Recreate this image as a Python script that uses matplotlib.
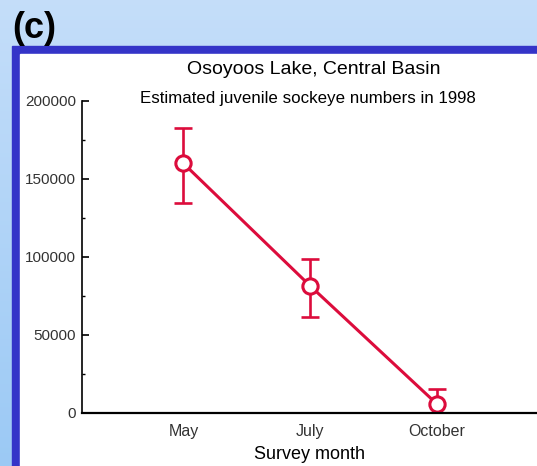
#Sockeye abundance panel for the central basin of Osoyoos Lake.

#importing all libraries which will be used.
import numpy as np
import matplotlib.pyplot as plt
from matplotlib.patches import Rectangle
from matplotlib.ticker import MultipleLocator

plt.rcParams['font.family'] = ['Liberation Sans', 'DejaVu Sans']

#Survey data
months = ["May", "July", "October"]
fish = [160000, 81500, 5800]
upper = [182500, 99000, 15500]
lower = [134500, 61500, -4000]

red = '#dc0c3c'

fig = plt.figure(figsize=(5.37, 4.66), dpi=100)

#Light blue slide background with a soft vertical fade
bg = fig.add_axes([0, 0, 1, 1], zorder=-10)
bg.axis('off')
fade = np.linspace(0, 1, 256).reshape(-1, 1)
top_col = np.array([0.77, 0.87, 0.98])
bot_col = np.array([0.61, 0.79, 0.96])
img = top_col + (bot_col - top_col) * fade[:, :, None]
bg.imshow(img, aspect='auto', extent=[0, 1, 0, 1], origin='upper')
bg.set_xlim(0, 1)
bg.set_ylim(0, 1)

#Blue frame and white panel
W, H = 537, 466
fig.patches.append(Rectangle((12 / W, 0), (W - 12) / W, (H - 46) / H,
                             transform=fig.transFigure, color='#3434c8', zorder=-5))
fig.patches.append(Rectangle((20 / W, 0), (W - 20) / W, (H - 54) / H,
                             transform=fig.transFigure, color='white', zorder=-4))

fig.text(34 / W, 1 - 29 / H, "(c)", fontsize=26, fontweight='bold',
         ha='center', va='center')

ax = fig.add_axes([82 / W, 53 / H, (W - 82) / W, 312 / H])
ax.patch.set_alpha(0)

x = np.arange(len(months))
fish = np.array(fish)
yerr = [fish - np.array(lower), np.array(upper) - fish]
#error bars are clipped at zero, the line and markers are not
bars = ax.errorbar(x, fish, yerr=yerr, color=red, lw=0, elinewidth=1.9,
                   capsize=6.5, capthick=1.9, zorder=2)
ax.plot(x, fish, color=red, lw=2.2, marker='o', ms=11, mfc='white',
        mec=red, mew=2.2, clip_on=False, zorder=3)

ax.set_xlim(-0.8, 2.79)
ax.set_ylim(0, 200000)
ax.set_xticks(x)
ax.set_xticklabels(months, fontsize=11.5, color='#333333')
ax.tick_params(axis='x', length=0, pad=8)
ax.yaxis.set_major_locator(MultipleLocator(50000))
ax.yaxis.set_minor_locator(MultipleLocator(25000))
ax.tick_params(axis='y', which='major', direction='in', length=5, width=1.2,
               labelsize=11, labelcolor='#333333', pad=4.5)
ax.tick_params(axis='y', which='minor', direction='in', length=2.5, width=1)
ax.spines['top'].set_visible(False)
ax.spines['right'].set_visible(False)
ax.spines['left'].set_linewidth(1.2)
ax.spines['bottom'].set_linewidth(1.6)
ax.spines['bottom'].set_zorder(4)

ax.set_xlabel("Survey month", fontsize=13, labelpad=5)

fig.text(314 / W, 1 - 70 / H, "Osoyoos Lake, Central Basin", fontsize=14,
         ha='center', va='center')
fig.text(308 / W, 1 - 98 / H, "Estimated juvenile sockeye numbers in 1998",
         fontsize=12.2, ha='center', va='center')

plt.savefig("out.png", dpi=100)
